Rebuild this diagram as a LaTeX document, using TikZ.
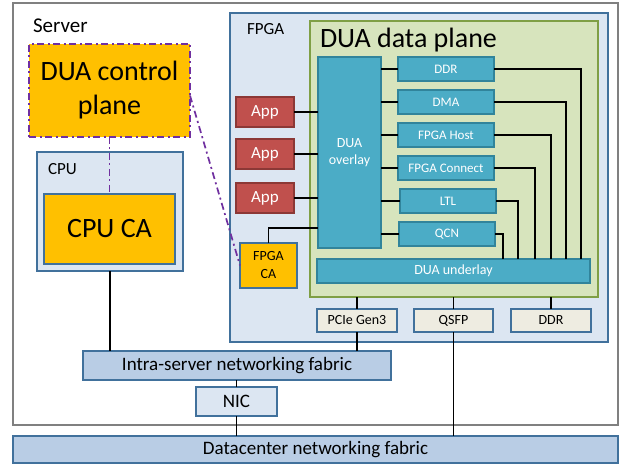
\documentclass[tikz,border=0pt]{standalone}
\usepackage{fontspec}
\setmainfont{Carlito}
\usepackage{tikz}
\usetikzlibrary{positioning, calc}

\definecolor{caorange}{HTML}{FFC000}
\definecolor{boxblue}{HTML}{DCE6F2}
\definecolor{fabblue}{HTML}{B9CDE5}
\definecolor{edgeblue}{HTML}{41719C}
\definecolor{planegreen}{HTML}{D7E4BD}
\definecolor{planeedge}{HTML}{7F9F45}
\definecolor{modteal}{HTML}{4BACC6}
\definecolor{modedge}{HTML}{31849B}
\definecolor{appred}{HTML}{C0504D}
\definecolor{appedge}{HTML}{8C3836}
\definecolor{portbeige}{HTML}{EEECE1}
\definecolor{ctrlpurple}{HTML}{7030A0}

\newcommand{\setfs}[2]{\fontsize{#1}{#2}\selectfont}

\begin{document}
\begin{tikzpicture}[x=1pt, y=-1pt,
            every node/.style={inner sep=0pt, outer sep=0pt, align=center},
            blk/.style={draw=edgeblue, line width=1.3pt},
            module/.style={draw=modedge, fill=modteal, line width=1.2pt, text=white,
                minimum width=96pt, minimum height=24pt, font=\setfs{13}{15}},
            appbox/.style={draw=appedge, fill=appred, line width=1.2pt, text=white,
                minimum width=58pt, minimum height=30pt, font=\setfs{17}{20}},
            port/.style={blk, fill=portbeige, minimum width=80pt, minimum height=23pt,
                font=\setfs{14}{17}},
            wire/.style={draw=black, line width=1.3pt},
            ctrlwire/.style={draw=ctrlpurple, line width=1.7pt,
                dash pattern=on 7pt off 3.5pt on 2pt off 3.5pt}]
            \useasboundingbox (0,0) rectangle (621,465);

            % Server
            \node[draw=gray, line width=1.3pt, fill=white, minimum width=605pt, minimum height=422pt]
                (server) at (315.5,214) {};
            \node[anchor=base west, font=\setfs{21}{25}] (servertitle) at (33,33) {Server};

            % Datacenter
            \node[blk, fill=fabblue, minimum width=605pt, minimum height=27pt, font=\setfs{19}{23}]
                (dcfabric) at (315.5,449.5) {Datacenter networking fabric};

            % 控制平面
            \node[ctrlwire, fill=caorange, minimum width=161pt, minimum height=93pt, font=\setfs{28}{34}]
                (ctrl) at (109.5,90.5) {DUA control\\plane};

            % CPU
            \node[blk, fill=boxblue, minimum width=146pt, minimum height=119pt] (cpu) at (110,211.5) {};
            \node[anchor=base west, font=\setfs{17}{20}] (cputitle) at (48,175) {CPU};
            \node[blk, fill=caorange, minimum width=131pt, minimum height=70pt, font=\setfs{28}{34}]
                (cpuca) at (109.5,229) {CPU CA};

            % FPGA
            \node[blk, fill=boxblue, minimum width=378pt, minimum height=329pt] (fpga) at (419,177.5) {};
            \node[anchor=base west, font=\setfs{17}{20}] (fpgatitle) at (247,35) {FPGA};

            % 数据平面
            \node[draw=planeedge, line width=1.3pt, fill=planegreen, minimum width=288pt, minimum height=276pt]
                (dataplane) at (454,159) {};
            \node[anchor=base west, font=\setfs{28}{34}] (dptitle) at (320,48) {DUA data plane};

            \node[module, minimum width=63pt, minimum height=191pt, font=\setfs{14}{17}]
                (overlay) at (349.5,152.5) {DUA\\overlay};
            \node[module, minimum width=273pt, font=\setfs{14}{17}]
                (underlay) at (453.5,271) {DUA underlay};

            \node[module] (ddr) at (446,69) {DDR};
            \node[module] (dma) at (446,102) {DMA};
            \node[module] (host) at (446,135) {FPGA Host};
            \node[module] (connect) at (446,168) {FPGA Connect};
            \node[module] (ltl) at (448,201) {LTL};
            \node[module] (qcn) at (447,234) {QCN};

            % App
            \node[appbox] (appa) at (265,112) {App};
            \node[appbox] (appb) at (265,154) {App};
            \node[appbox] (appc) at (265,198) {App};

            \node[blk, fill=caorange, minimum width=57pt, minimum height=45pt, font=\setfs{14}{18}]
                (fpgaca) at (268.5,265.5) {FPGA\\CA};

            % 接口
            \node[port] (pcie) at (357,320.5) {PCIe Gen3};
            \node[port, minimum width=79pt] (qsfp) at (453.5,320.5) {QSFP};
            \node[port] (fddr) at (551,320.5) {DDR};

            % 网络
            \node[blk, fill=fabblue, minimum width=308pt, minimum height=29pt, font=\setfs{19}{23}]
                (isfabric) at (237,365.5) {Intra-server networking fabric};
            \node[blk, fill=boxblue, minimum width=81pt, minimum height=29pt, font=\setfs{19}{23}]
                (nic) at (236.5,401.5) {NIC};

            % 控制连线
            \draw[ctrlwire] (ctrl.south) -- (cpuca.north);
            \draw[ctrlwire] ([yshift=-5pt]ctrl.east) -- (fpgaca.west);

            % 连线
            \draw[wire] (appa.east) -- (appa.east -| overlay.west);
            \draw[wire] (appb.east) -- (appb.east -| overlay.west);
            \draw[wire] (appc.east) -- (appc.east -| overlay.west);
            \draw[wire] (fpgaca.north) |- ([yshift=20pt]overlay.south west);

            \draw[wire] (ddr.west -| overlay.east) -- (ddr.west);
            \draw[wire] (dma.west -| overlay.east) -- (dma.west);
            \draw[wire] (host.west -| overlay.east) -- (host.west);
            \draw[wire] (connect.west -| overlay.east) -- (connect.west);
            \draw[wire] (ltl.west -| overlay.east) -- (ltl.west);
            \draw[wire] (qcn.west -| overlay.east) -- (qcn.west);

            \draw[wire] (ddr.east) -| ([xshift=-9pt]underlay.north east);
            \draw[wire] (dma.east) -| ([xshift=-24pt]underlay.north east);
            \draw[wire] (host.east) -| ([xshift=-39pt]underlay.north east);
            \draw[wire] (connect.east) -| ([xshift=-55pt]underlay.north east);
            \draw[wire] (ltl.east) -| ([xshift=-72pt]underlay.north east);
            \draw[wire] (qcn.east) -| ([xshift=-87pt]underlay.north east);

            \draw[wire] (pcie.north |- dataplane.south) -- (pcie.north);
            \draw[wire] (qsfp.north |- dataplane.south) -- (qsfp.north);
            \draw[wire] (fddr.north |- dataplane.south) -- (fddr.north);

            \draw[wire] (cpu.south) -- (cpu.south |- isfabric.north);
            \draw[wire] (pcie.south) -- (pcie.south |- isfabric.north);
            \draw[wire] (nic.north |- isfabric.south) -- (nic.north);
            \draw[wire] (nic.south) -- (nic.south |- dcfabric.north);
            \draw[wire] (qsfp.south) -- (qsfp.south |- dcfabric.north);
        \end{tikzpicture}
\end{document}
